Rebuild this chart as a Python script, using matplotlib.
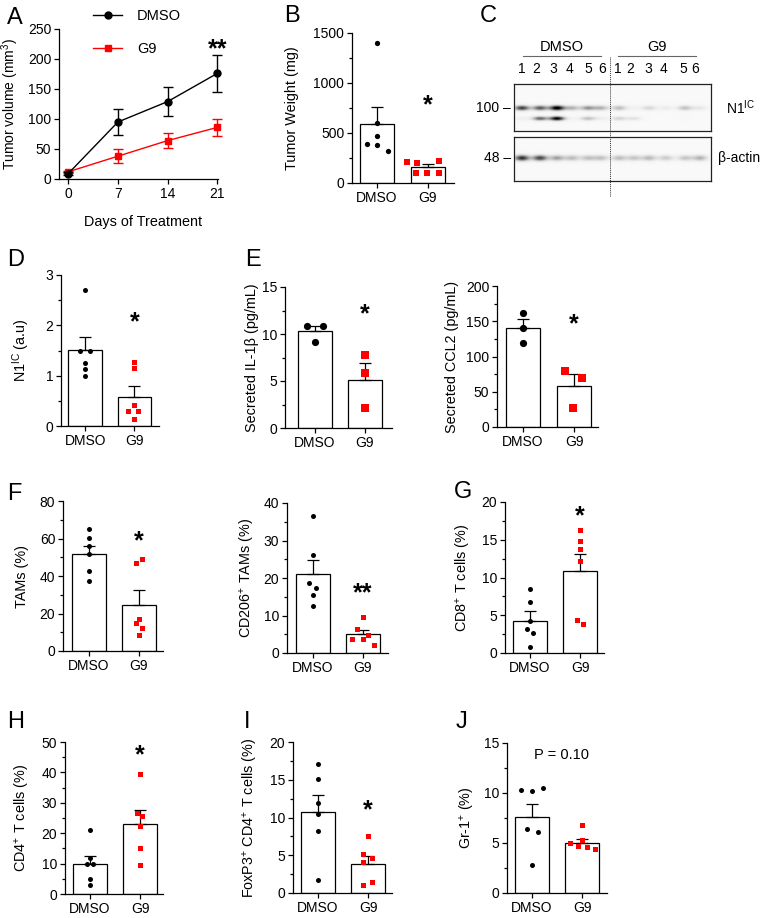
import numpy as np
import matplotlib
matplotlib.use('Agg')
import matplotlib.pyplot as plt
from matplotlib.lines import Line2D
from matplotlib.ticker import MultipleLocator

plt.rcParams['font.family'] = ['Liberation Sans', 'DejaVu Sans']
plt.rcParams['mathtext.default'] = 'regular'
plt.rcParams['axes.linewidth'] = 0.9

RED = '#ff0000'
W, H = 762, 918
TICK_FS = 10
LABEL_FS = 10.4

# ---------- data ----------
# A: tumour growth
days = [0, 7, 14, 21]
vol_dmso = [9, 95, 129, 176]
vol_dmso_err = [2, 21, 24, 31]
vol_g9 = [12, 38, 64, 86]
vol_g9_err = [2, 12, 12.5, 14]

# B: tumour weight
weight_dmso = [1400, 600, 467, 390, 380, 323]
weight_g9 = [210, 205, 225, 105, 105, 100]
weight_bar = [590, 160]
weight_top = [760, 190]

# C: western blot band intensities (lanes DMSO 1-6, G9 1-6)
blot_lanes = ['1', '2', '3', '4', '5', '6']
n1_upper = [0.75, 0.65, 1.0, 0.35, 0.45, 0.35, 0.32, 0.06, 0.2, 0.1, 0.3, 0.12]
n1_lower = [0.08, 0.6, 0.95, 0.04, 0.3, 0.08, 0.22, 0.15, 0.0, 0.0, 0.02, 0.0]
actin_band = [0.8, 0.72, 0.42, 0.32, 0.3, 0.3, 0.32, 0.28, 0.33, 0.26, 0.28, 0.36]

# D: N1IC quantification
n1_dmso = [2.7, 1.5, 1.5, 1.26, 1.13, 1.0]
n1_g9 = [1.27, 1.15, 0.41, 0.3, 0.3, 0.14]
n1_bar = [1.51, 0.58]
n1_top = [1.76, 0.79]

# E: secreted cytokines
il1b_dmso = [10.9, 10.85, 9.1]
il1b_g9 = [7.8, 5.8, 2.1]
il1b_bar = [10.28, 5.14]
il1b_top = [10.85, 6.88]

ccl2_dmso = [162, 140, 119]
ccl2_g9 = [79.6, 70, 26.5]
ccl2_bar = [139.8, 57.8]
ccl2_top = [152.6, 74.9]

# F: TAMs
tam_dmso = [64.9, 60.1, 55.9, 51.8, 42.6, 37.3]
tam_g9 = [49, 47, 17.3, 14.9, 12.3, 8.4]
tam_bar = [51.5, 24.6]
tam_top = [56, 32.3]

cd206_dmso = [36.6, 26.1, 18.8, 17.3, 15.5, 12.6]
cd206_g9 = [9.5, 6.5, 4.9, 3.8, 3.7, 2.2]
cd206_bar = [21.0, 5.0]
cd206_top = [24.7, 6.1]

# G: CD8+
cd8_dmso = [8.47, 6.7, 4.3, 3.2, 2.7, 0.8]
cd8_g9 = [16.3, 14.9, 13.8, 12.2, 4.4, 3.9]
cd8_bar = [4.3, 10.8]
cd8_top = [5.5, 13.1]

# H: CD4+
cd4_dmso = [20.9, 11.7, 9.8, 9.8, 5.0, 2.8]
cd4_g9 = [39.6, 26.8, 25.5, 22.4, 15.2, 9.6]
cd4_bar = [9.9, 23.0]
cd4_top = [12.5, 27.5]

# I: FoxP3+ CD4+
treg_dmso = [17.05, 15.1, 11.96, 10.5, 8.2, 1.67]
treg_g9 = [7.56, 5.19, 4.6, 4.1, 1.4, 1.1]
treg_bar = [10.7, 3.87]
treg_top = [13.0, 4.9]

# J: Gr-1+
gr1_dmso = [10.27, 10.2, 10.5, 6.37, 6.07, 2.77]
gr1_g9 = [6.77, 5.0, 5.3, 4.7, 4.6, 4.37]
gr1_bar = [7.63, 5.03]
gr1_top = [8.93, 5.43]

groups = ['DMSO', 'G9']

fig = plt.figure(figsize=(W / 100, H / 100), dpi=100)
fig.patch.set_facecolor('white')


def px_axes(l, t, r, b, **kw):
    return fig.add_axes([l / W, 1 - b / H, (r - l) / W, (b - t) / H], **kw)


def style_axes(ax):
    for s in ['top', 'right']:
        ax.spines[s].set_visible(False)
    ax.tick_params(direction='out', length=3.5, width=0.9, labelsize=TICK_FS, pad=2)
    ax.tick_params(which='minor', length=2, width=0.9)


def place_ylabel(ax, text, right_px, box, fs=LABEL_FS):
    l, t, r, b = box
    ax.set_ylabel(text, fontsize=fs)
    ax.yaxis.set_label_coords((right_px - l) / (r - l), 0.5)


def add_star(ax, x, y, s):
    ax.annotate(s, (x, y), xytext=(0, -0.55 * 18), textcoords='offset points',
                ha='center', va='baseline', fontsize=18, fontweight='bold')


def bar_panel(box, xlim, ymax, major, minor, ylabel, label_px,
              dmso, g9, bars, tops, off_d, off_g, sig, sig_y,
              sig_x=1.0, ms=3.6):
    ax = px_axes(*box)
    style_axes(ax)
    ax.bar([0, 1], bars, width=0.68, color='white', edgecolor='black',
           linewidth=0.9, zorder=1)
    errs = [t - m for t, m in zip(tops, bars)]
    ax.errorbar([0, 1], bars, yerr=[[0, 0], errs], fmt='none', ecolor='black',
                elinewidth=0.9, capsize=4, capthick=0.9, zorder=2)
    ax.plot(np.array(off_d) / 50.0, dmso, 'o', color='black', ms=ms,
            mew=0, zorder=3, clip_on=False)
    ax.plot(1 + np.array(off_g) / 50.0, g9, 's', color=RED, ms=ms,
            mew=0, zorder=3, clip_on=False)
    ax.set_xlim(*xlim)
    ax.set_ylim(0, ymax)
    ax.set_xticks([0, 1])
    ax.set_xticklabels(groups)
    ax.yaxis.set_major_locator(MultipleLocator(major))
    if minor:
        ax.yaxis.set_minor_locator(MultipleLocator(minor))
    place_ylabel(ax, ylabel, label_px, box)
    if sig.startswith('P'):
        ax.text(sig_x, sig_y, sig, ha='center', va='center', fontsize=10.5)
    else:
        add_star(ax, sig_x, sig_y, sig)
    return ax


# ---------- A ----------
boxA = (59, 29, 218, 179)
axA = px_axes(*boxA)
style_axes(axA)
axA.errorbar(days, vol_dmso, yerr=vol_dmso_err, fmt='-o', color='black',
             ms=5, lw=1, elinewidth=1, capsize=3.5, capthick=1, zorder=3,
             clip_on=False)
axA.errorbar(days, vol_g9, yerr=vol_g9_err, fmt='-s', color=RED, ms=5,
             lw=1, elinewidth=1, capsize=3.5, capthick=1, zorder=2,
             clip_on=False)
axA.set_xlim(-1.3, 21.1)
axA.set_ylim(0, 250)
axA.set_xticks(days)
axA.yaxis.set_major_locator(MultipleLocator(50))
place_ylabel(axA, 'Tumor volume (mm$^{3}$)', 21, boxA, fs=10)
axA.set_xlabel('Days of Treatment', fontsize=LABEL_FS)
axA.xaxis.set_label_coords((143 - 59) / (218 - 59), -0.24)
add_star(axA, 21, 228, '**')
handles = [Line2D([], [], color='black', marker='o', ms=5, lw=1),
           Line2D([], [], color=RED, marker='s', ms=5, lw=1)]
axA.legend(handles, groups, loc='upper left', bbox_to_anchor=(93 / W, 1 - 9 / H),
           bbox_transform=fig.transFigure, frameon=False, fontsize=10.5,
           handlelength=2.0, handletextpad=1.0, labelspacing=1.3,
           borderpad=0, borderaxespad=0)

# ---------- B ----------
bar_panel((352, 33, 454, 183), (-0.49, 1.51), 1500, 500, 250,
          'Tumor Weight (mg)', 299, weight_dmso, weight_g9,
          weight_bar, weight_top, [0, 0, 0, -10, 0, 11],
          [-21, -11, 11, -12, -1, 11], '*', 840, ms=3.8)

# ---------- C: western blot ----------
band_px = [522, 540, 557, 572, 588, 601, 619, 634, 649, 666, 685, 700]
lane_label_px = [522, 536, 553, 570, 588, 602, 618, 630, 648, 664, 683, 695]


def blot_image(box, rows):
    l, t, r, b = box
    xs = np.arange(l, r) + 0.5
    ys = np.arange(t, b) + 0.5
    img = np.full((len(ys), len(xs)), 0.05)
    for values, yc, sy in rows:
        for xc, a in zip(band_px, values):
            img += (a * np.exp(-((xs - xc) / 7.5) ** 2)[None, :]
                    * np.exp(-((ys - yc) / sy) ** 2)[:, None])
    return img


for box, rows in [((514, 84, 711, 131), [(n1_upper, 108, 2.6), (n1_lower, 118.5, 2.2)]),
                  ((514, 137, 711, 181), [(actin_band, 158, 3.0)])]:
    axb = px_axes(*box)
    axb.imshow(blot_image(box, rows), cmap='Greys', vmin=0, vmax=1.0,
               aspect='auto', interpolation='bilinear',
               extent=(box[0], box[2], box[3], box[1]))
    axb.set_xticks([])
    axb.set_yticks([])
    for s in axb.spines.values():
        s.set_linewidth(0.9)
        s.set_color('#222222')

# ---------- D ----------
bar_panel((61, 275, 159, 426), (-0.49, 1.5), 3, 1, 0.5,
          'N1$^{IC}$ (a.u)', 32, n1_dmso, n1_g9, n1_bar, n1_top,
          [0, -5, 5, 0, 0, 0], [0, 0, 0, -6, 4, 0], '*', 2.2)

# ---------- E ----------
bar_panel((285, 287, 392, 428), (-0.6, 1.54), 15, 5, 2.5,
          'Secreted IL-1β (pg/mL)', 259, il1b_dmso, il1b_g9, il1b_bar,
          il1b_top, [-8, 8, 0], [0, 0, 0], '*', 12.8, ms=5.2)
bar_panel((497, 286, 598, 427), (-0.51, 1.47), 200, 50, 25,
          'Secreted CCL2 (pg/mL)', 459, ccl2_dmso, ccl2_g9, ccl2_bar,
          ccl2_top, [0, 0, 0], [-9, 8, -1], '*', 155, ms=5.2)

# ---------- F ----------
bar_panel((63, 501, 163, 651), (-0.52, 1.48), 80, 20, 10,
          'TAMs (%)', 29, tam_dmso, tam_g9, tam_bar, tam_top,
          [0, 0, 0, 0, 0, 0], [3, -3, 0, -3, 3, 0], '*', 62)
bar_panel((287, 503, 388, 653), (-0.52, 1.5), 40, 10, 5,
          'CD206$^{+}$ TAMs (%)', 257, cd206_dmso, cd206_g9, cd206_bar,
          cd206_top, [0, 0, -4, 3, 0, 0], [0, -6, 5, -11, 0, 11], '**', 17.7)

# ---------- G ----------
bar_panel((505, 502, 604, 653), (-0.5, 1.48), 20, 5, 2.5,
          'CD8$^{+}$ T cells (%)', 473, cd8_dmso, cd8_g9, cd8_bar, cd8_top,
          [0, 0, 0, -3, 3, 0], [0, 0, 0, 0, -3, 3], '*', 19)

# ---------- H ----------
bar_panel((65, 742, 163, 894), (-0.5, 1.46), 50, 10, 5,
          'CD4$^{+}$ T cells (%)', 32, cd4_dmso, cd4_g9, cd4_bar, cd4_top,
          [0, 0, -3, 3, 0, 0], [0, -3, 2, 0, 0, 0], '*', 48)

# ---------- I ----------
bar_panel((293, 742, 392, 893), (-0.5, 1.48), 20, 5, 2.5,
          'FoxP3$^{+}$ CD4$^{+}$ T cells (%)', 260, treg_dmso, treg_g9,
          treg_bar, treg_top, [0, 0, 0, 0, 0, 0], [0, -5, 4, -5, 4, -5],
          '*', 11.9)

# ---------- J ----------
bar_panel((507, 743, 607, 893), (-0.5, 1.5), 15, 5, 2.5,
          'Gr-1$^{+}$ (%)', 477, gr1_dmso, gr1_g9, gr1_bar, gr1_top,
          [-11, 0, 11, -5, 6, 0], [0, -12, 0, -4, 5, 13], 'P = 0.10', 13.8,
          sig_x=0.6)

# ---------- overlay: panel letters and blot annotations ----------
ov = fig.add_axes([0, 0, 1, 1], zorder=10)
ov.set_xlim(0, W)
ov.set_ylim(H, 0)
ov.axis('off')
ov.patch.set_visible(False)

letters = ['A', 'B', 'C', 'D', 'E', 'F', 'G', 'H', 'I', 'J']
letter_px = [(15, 15), (292, 14), (488, 14), (16, 258), (253, 258),
             (14, 492), (463, 489), (16, 720), (247, 720), (462, 720)]
for s, (x, y) in zip(letters, letter_px):
    ov.text(x, y + 8.5, s, ha='center', va='baseline', fontsize=17)

ov.text(562, 47, 'DMSO', ha='center', va='center', fontsize=10.5)
ov.text(657, 47, 'G9', ha='center', va='center', fontsize=10.5)
ov.plot([523, 601], [56, 56], color='#666666', lw=0.8)
ov.plot([618, 696], [56, 56], color='#666666', lw=0.8)
for x, s in zip(lane_label_px, blot_lanes + blot_lanes):
    ov.text(x, 69, s, ha='center', va='center', fontsize=10)
ov.plot([610, 610], [57, 197], color='#333333', lw=0.7, ls=(0, (1.0, 1.0)))
ov.text(511, 108, '100 –', ha='right', va='center', fontsize=10)
ov.text(511, 158, '48 –', ha='right', va='center', fontsize=10)
ov.text(726, 108, 'N1$^{IC}$', ha='left', va='center', fontsize=10)
ov.text(718, 158, 'β-actin', ha='left', va='center', fontsize=10)

fig.savefig('out.png', dpi=100, facecolor='white')
